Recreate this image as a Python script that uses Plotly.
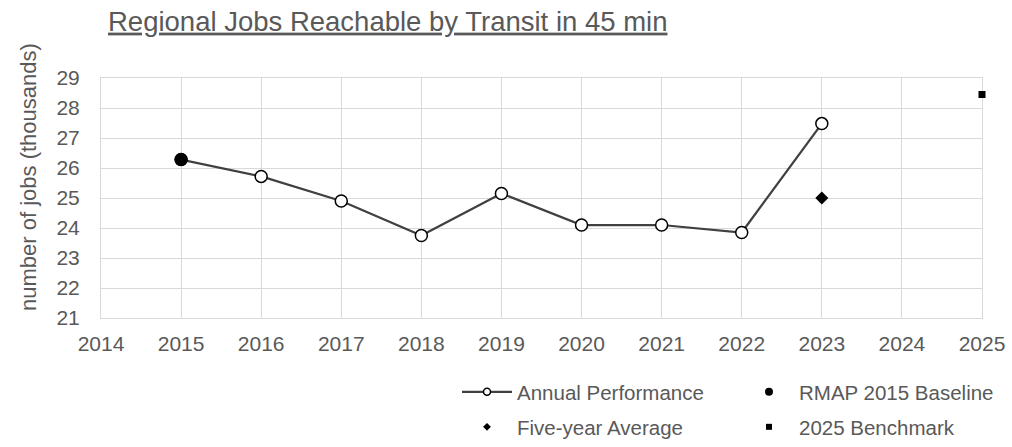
import plotly.graph_objects as go

# Annual performance, thousands of jobs reachable within 45 minutes by transit
years = [2015, 2016, 2017, 2018, 2019, 2020, 2021, 2022, 2023]
annual_jobs = [26.28, 25.72, 24.90, 23.75, 25.15, 24.10, 24.10, 23.85, 27.48]

baseline_year = [2015]
baseline_jobs = [26.28]

avg_year = [2023]
avg_jobs = [25.0]

bench_year = [2025]
bench_jobs = [28.45]

x_ticks = list(range(2014, 2026))
y_ticks = list(range(21, 30))

TEXT = "#595959"
GRID = "#d9d9d9"
FONT = "Liberation Sans, Arial, sans-serif"

fig = go.Figure()

# plotted series (legend entries are drawn by the legend-only traces below)
fig.add_trace(go.Scatter(
    x=years, y=annual_jobs, mode="lines+markers", showlegend=False,
    line=dict(color="#404040", width=2.25),
    marker=dict(symbol="circle", size=12, color="white",
                line=dict(color="black", width=1.5)),
    cliponaxis=False))
fig.add_trace(go.Scatter(
    x=baseline_year, y=baseline_jobs, mode="markers", showlegend=False,
    marker=dict(symbol="circle", size=13, color="black"), cliponaxis=False))
fig.add_trace(go.Scatter(
    x=avg_year, y=avg_jobs, mode="markers", showlegend=False,
    marker=dict(symbol="diamond", size=10, color="black"), cliponaxis=False))
fig.add_trace(go.Scatter(
    x=bench_year, y=bench_jobs, mode="markers", showlegend=False,
    marker=dict(symbol="square", size=7, color="black"), cliponaxis=False))

# legend entries with compact symbols
fig.add_trace(go.Scatter(
    x=[None], y=[None], mode="lines+markers", name="Annual Performance",
    line=dict(color="#404040", width=2.25),
    marker=dict(symbol="circle", size=7, color="white",
                line=dict(color="black", width=1.5)),
    legend="legend"))
fig.add_trace(go.Scatter(
    x=[None], y=[None], mode="markers", name="RMAP 2015 Baseline",
    marker=dict(symbol="circle", size=8, color="black"), legend="legend"))
fig.add_trace(go.Scatter(
    x=[None], y=[None], mode="markers", name="Five-year Average",
    marker=dict(symbol="diamond", size=6, color="black"), legend="legend2"))
fig.add_trace(go.Scatter(
    x=[None], y=[None], mode="markers", name="2025 Benchmark",
    marker=dict(symbol="square", size=6, color="black"), legend="legend2"))

legend_common = dict(
    orientation="h", xref="container", yref="container",
    xanchor="left", yanchor="top", itemwidth=50, entrywidth=217,
    font=dict(family=FONT, size=20.5, color=TEXT),
    bgcolor="rgba(0,0,0,0)", borderwidth=0, traceorder="normal",
)

fig.update_layout(
    width=1012, height=447,
    margin=dict(l=101, r=30, t=78, b=129, autoexpand=False),
    paper_bgcolor="white", plot_bgcolor="white",
    font=dict(family=FONT, color=TEXT, size=21),
    title=dict(
        text="<u>Regional Jobs Reachable by Transit in 45 min</u>",
        x=108 / 1012, xanchor="left", xref="container",
        y=1 - 21 / 447, yanchor="middle", yref="container",
        font=dict(family=FONT, size=27.5, color=TEXT)),
    xaxis=dict(
        range=[2014, 2025], tickvals=x_ticks, ticktext=[str(v) for v in x_ticks],
        showgrid=True, gridcolor=GRID, gridwidth=1,
        showline=True, linecolor=GRID, linewidth=1, mirror=True,
        layer="below traces",
        zeroline=False, ticks="", ticklabelstandoff=7,
        tickfont=dict(family=FONT, size=21, color=TEXT)),
    yaxis=dict(
        range=[21, 29], tickvals=y_ticks,
        showgrid=True, gridcolor=GRID, gridwidth=1,
        showline=True, linecolor=GRID, linewidth=1, mirror=True,
        layer="below traces",
        zeroline=False, ticks="", ticklabelstandoff=16,
        tickfont=dict(family=FONT, size=21, color=TEXT)),
    legend=dict(legend_common, x=457 / 1012, y=1 - 372 / 447),
    legend2=dict(legend_common, x=457 / 1012, y=1 - 407 / 447),
    annotations=[dict(
        text="number of jobs (thousands)", textangle=-90,
        xref="paper", yref="paper", x=-73 / 881, y=(318 - 177) / 240,
        xanchor="center", yanchor="middle", showarrow=False,
        font=dict(family=FONT, size=22, color=TEXT))],
)

fig.write_html("out.html")
